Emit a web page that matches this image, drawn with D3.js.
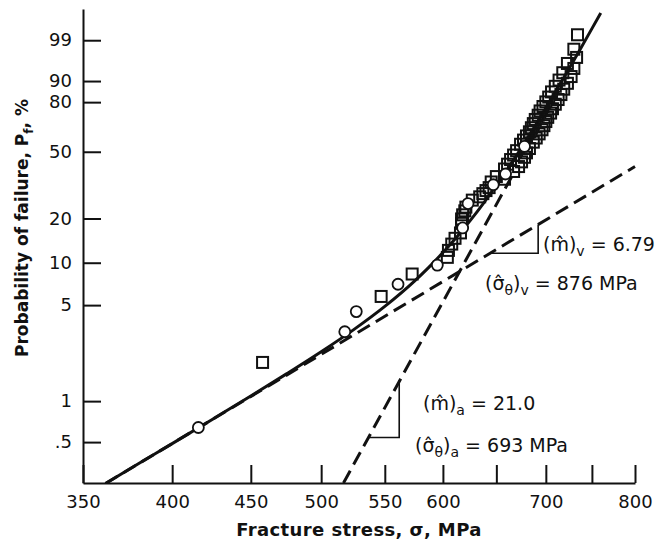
<!DOCTYPE html>
<html>
<head>
<meta charset="utf-8">
<script src="https://cdn.jsdelivr.net/npm/d3@7"></script>
<style>
  body { margin: 0; background: #fff; }
  svg { display: block; font-family: "DejaVu Sans", Verdana, sans-serif; }
</style>
</head>
<body>
<svg id="chart" width="668" height="541"></svg>
<script>
// axis ticks
const xTicks = [350, 400, 450, 500, 550, 600, 650, 700, 750, 800]
const xTickLabels = ['350', '400', '450', '500', '550', '600', '', '700', '', '800']
const yTicks = [0.5, 1, 5, 10, 20, 50, 80, 90, 99]
const yTickLabels = ['.5', '1', '5', '10', '20', '50', '80', '90', '99']

// specimens (fracture stress in MPa, probability of failure in %)
const circleStress = [416, 518, 527, 561, 595, 618, 623, 647, 659, 678]
const circleProb = [0.64, 3.21, 4.49, 7.05, 9.62, 17.31, 25.00, 32.69, 37.82, 53.21]

const squareStress = [458, 547, 573, 604, 605, 608, 611, 616, 617, 617, 618, 620, 621,
  627, 634, 637, 640, 643, 645, 658, 650, 667, 658, 672, 661, 675, 664, 678, 667, 680,
  670, 683, 674, 687, 677, 690, 680, 693, 683, 696, 685, 698, 687, 700, 689, 702, 692,
  705, 694, 707, 697, 710, 700, 713, 703, 716, 706, 719, 710, 723, 714, 727, 718, 730,
  723, 733, 730, 734]
const squareProb = [1.92, 5.77, 8.33, 10.90, 12.18, 13.46, 14.74, 16.03, 18.59, 19.87, 21.15, 22.44, 23.72,
  26.28, 27.56, 28.85, 30.13, 31.41, 33.97, 35.26, 36.54, 39.10, 40.38, 41.67, 42.95, 44.23, 45.51, 46.79, 48.08, 49.36,
  50.64, 51.92, 54.49, 55.77, 57.05, 58.33, 59.62, 60.90, 62.18, 63.46, 64.74, 66.03, 67.31, 68.59, 69.87, 71.15, 72.44,
  73.72, 75.00, 76.28, 77.56, 78.85, 80.13, 81.41, 82.69, 83.97, 85.26, 86.54, 87.82, 89.10, 90.38, 91.67, 92.95, 94.23,
  95.51, 96.79, 98.08, 99.36]

// fitted curve
const curveStress = [362, 380, 400, 425, 450, 475, 500, 525, 550, 575, 587, 600, 612, 625,
  637, 650, 662, 675, 687, 700, 712, 725, 737, 750, 760]
const curveProb = [0.248, 0.345, 0.4875, 0.737, 1.091, 1.590, 2.297, 3.328, 4.896, 7.427, 9.21, 11.76, 14.88, 19.37,
  24.82, 32.46, 41.24, 52.56, 64.12, 76.62, 86.59, 94.26, 98.08, 99.633, 99.934]

// dashed fit lines (end points) and slope triangles
const steepStress = [517, 668]
const steepProb = [0.25, 39.2]
const shallowStress = [362, 800]
const shallowProb = [0.248, 41.7]
const steepTriStress = [537, 562, 562]
const steepTriProb = [0.54, 0.54, 1.42]
const shallowTriStress = [644, 692, 692]
const shallowTriProb = [11.65, 11.65, 18.27]

const ink = '#111'
const svg = d3.select('#chart')

const plotLeft = 83, plotRight = 635, plotTop = 9, plotBottom = 483

// Weibull probability paper
const wb = (p) => Math.log(-Math.log(1 - p / 100))

const x = d3.scaleLog().domain([350, 800]).range([plotLeft, plotRight])
const y = d3.scaleLinear().domain([wb(0.25), wb(99.96)]).range([plotBottom, plotTop])

const pts = (s, p) => s.map((v, i) => [x(v), y(wb(p[i]))])

svg.append('clipPath').attr('id', 'plot')
  .append('rect')
  .attr('x', plotLeft).attr('y', plotTop)
  .attr('width', plotRight - plotLeft + 2).attr('height', plotBottom - plotTop)

const plot = svg.append('g').attr('clip-path', 'url(#plot)')

const line = d3.line()
const smooth = d3.line().curve(d3.curveMonotoneX)

plot.append('path')
  .attr('d', line(pts(shallowStress, shallowProb)))
  .attr('fill', 'none').attr('stroke', ink)
  .attr('stroke-width', 3).attr('stroke-dasharray', '14,7')

plot.append('path')
  .attr('d', line(pts(steepStress, steepProb)))
  .attr('fill', 'none').attr('stroke', ink)
  .attr('stroke-width', 3).attr('stroke-dasharray', '14,7')

plot.append('path')
  .attr('d', smooth(pts(curveStress, curveProb)))
  .attr('fill', 'none').attr('stroke', ink)
  .attr('stroke-width', 3)

svg.append('path')
  .attr('d', line(pts(steepTriStress, steepTriProb)))
  .attr('fill', 'none').attr('stroke', ink).attr('stroke-width', 1.6)

svg.append('path')
  .attr('d', line(pts(shallowTriStress, shallowTriProb)))
  .attr('fill', 'none').attr('stroke', ink).attr('stroke-width', 1.6)

svg.append('g').selectAll('rect')
  .data(pts(squareStress, squareProb))
  .enter().append('rect')
  .attr('x', (d) => d[0] - 5.5).attr('y', (d) => d[1] - 5.5)
  .attr('width', 11).attr('height', 11)
  .attr('fill', 'none').attr('stroke', ink).attr('stroke-width', 2)

svg.append('g').selectAll('circle')
  .data(pts(circleStress, circleProb))
  .enter().append('circle')
  .attr('cx', (d) => d[0]).attr('cy', (d) => d[1]).attr('r', 5.5)
  .attr('fill', '#fff').attr('stroke', ink).attr('stroke-width', 1.8)

// axes
svg.append('g')
  .attr('transform', `translate(0, ${plotBottom})`)
  .call(d3.axisBottom(x).tickValues(xTicks)
    .tickFormat((d, i) => xTickLabels[i])
    .tickSize(-18).tickSizeOuter(0).tickPadding(12))

svg.append('g')
  .attr('transform', `translate(${plotLeft}, 0)`)
  .call(d3.axisLeft(y).tickValues(yTicks.map(wb))
    .tickFormat((d, i) => yTickLabels[i])
    .tickSize(-18).tickSizeOuter(0).tickPadding(11))

svg.selectAll('.domain, .tick line').attr('stroke', ink).attr('stroke-width', 2)
svg.selectAll('.tick text')
  .attr('fill', ink)
  .style('font-size', '18px')
  .style('font-family', '"DejaVu Sans", Verdana, sans-serif')

// axis titles
svg.append('text')
  .attr('x', 359).attr('y', 536)
  .attr('text-anchor', 'middle')
  .style('font-size', '18px').style('font-weight', 'bold')
  .style('letter-spacing', '0.4px')
  .attr('fill', ink)
  .text('Fracture stress, σ, MPa')

const yTitle = svg.append('text')
  .attr('transform', 'translate(28, 228) rotate(-90)')
  .attr('text-anchor', 'middle')
  .style('font-size', '17px').style('font-weight', 'bold')
  .attr('fill', ink)
yTitle.append('tspan').text('Probability of failure, P')
yTitle.append('tspan').attr('dy', 5).style('font-size', '12px').text('f')
yTitle.append('tspan').attr('dy', -5).text(', %')

// fit annotations
function annotate(px, py, parts) {
  const t = svg.append('text')
    .attr('x', px).attr('y', py)
    .attr('fill', ink)
  let shift = 0
  parts.forEach(([s, sub]) => {
    const dy = (sub ? 5 : 0) - shift
    shift = sub ? 5 : 0
    t.append('tspan').attr('dy', dy)
      .style('font-size', sub ? '14px' : '19px')
      .text(s)
  })
}

annotate(543, 251, [['(m\u0302)'], ['v', true], [' = 6.79']])
annotate(485, 290, [['(σ\u0302'], ['θ', true], [')'], ['v', true], [' = 876 MPa']])
annotate(423, 410, [['(m\u0302)'], ['a', true], [' = 21.0']])
annotate(415, 452, [['(σ\u0302'], ['θ', true], [')'], ['a', true], [' = 693 MPa']])
</script>
</body>
</html>
